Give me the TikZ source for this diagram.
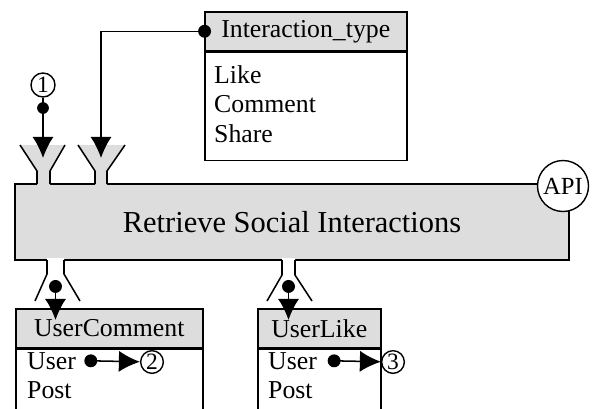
\documentclass[tikz,border=0pt]{standalone}
\usepackage{fontspec}
\setmainfont{Liberation Serif}
\usepackage{tikz}
\usetikzlibrary{arrows.meta}
\usetikzlibrary{positioning}

\tikzset{
  wire/.style={line width=1.3pt, line join=miter},
  procbox/.style={rectangle, draw=black, line width=1.3pt, fill=gray!27,
    minimum width=16.62cm, minimum height=2.28cm, font=\fontsize{26}{30}\selectfont},
  tabhead/.style={rectangle, draw=black, line width=1.3pt, fill=gray!27, inner sep=0pt,
    minimum height=1.17cm, font=\fontsize{22}{25}\selectfont},
  tabbody/.style={rectangle, draw=black, line width=1.3pt, fill=white, inner sep=0pt},
  tabrows/.style={align=left, inner sep=0pt, font=\fontsize{22}{25}\selectfont},
  numc/.style={circle, draw=black, line width=1.2pt, fill=white, inner sep=0pt,
    font=\fontsize{20}{20}\selectfont},
  flow/.style={wire, -{Latex[length=18pt,width=18pt]}},
  dotflow/.style={wire, {Circle[length=11pt]}-{Latex[length=18pt,width=18pt]}},
}

\begin{document}
\begin{tikzpicture}[x=0.03cm, y=-0.03cm]
\clip (0,0) rectangle (592,408);

% process
\node [procbox] (P) at (292,222) {Retrieve Social Interactions};
\node [numc, minimum size=1.53cm, font=\fontsize{21}{21}\selectfont] (api) at (563,186) {API};

% input funnels
\fill [gray!27] (20,145) -- (37,171) -- (37,186) -- (50,186) -- (50,171) -- (65,145) -- cycle;
\draw [wire] (20,145) -- (37,171) -- (37,184);
\draw [wire] (65,145) -- (50,171) -- (50,184);
\fill [gray!27] (78,145) -- (95,171) -- (95,186) -- (107,186) -- (107,171) -- (125,145) -- cycle;
\draw [wire] (78,145) -- (95,171) -- (95,184);
\draw [wire] (125,145) -- (107,171) -- (107,184);
\coordinate (in1) at (43,158);
\coordinate (in2) at (101,158);

% output funnels
\fill [white] (47,258) -- (47,274) -- (35,301) -- (80,301) -- (64,274) -- (64,258) -- cycle;
\draw [wire] (47,260) -- (47,274) -- (35,301);
\draw [wire] (64,260) -- (64,274) -- (80,301);
\fill [white] (282,258) -- (282,275) -- (267,301) -- (312,301) -- (295,275) -- (295,258) -- cycle;
\draw [wire] (282,260) -- (282,275) -- (267,301);
\draw [wire] (295,260) -- (295,275) -- (312,301);
\coordinate (src1) at (55.5,280);
\coordinate (src2) at (288.5,280);
\coordinate (out1) at (55.5,320);
\coordinate (out2) at (288.5,320);

% control table
\node [tabhead, minimum width=6.06cm, anchor=north west] (ith) at (204,11) {Interaction\_type};
\node [tabbody, minimum width=6.06cm, minimum height=3.24cm, below=0pt of ith] (itb) {};
\node [tabrows, anchor=west] (itrows) at (214,104) {Like\\Comment\\Share};

% output tables
\node [tabhead, minimum width=5.61cm, anchor=north west] (uch) at (15,308) {UserComment};
\node [tabbody, minimum width=5.61cm, minimum height=3cm, below=0pt of uch] (ucb) {};
\node [tabrows, anchor=base west] (ucuser) at (27,369) {User};
\node [tabrows, anchor=base west] (ucpost) at (27,398) {Post};

\node [tabhead, minimum width=3.69cm, anchor=north west] (ulh) at (257,308) {UserLike};
\node [tabbody, minimum width=3.69cm, minimum height=3cm, below=0pt of ulh] (ulb) {};
\node [tabrows, anchor=base west] (uluser) at (268,369) {User};
\node [tabrows, anchor=base west] (ulpost) at (268,398) {Post};

% numbered references
\node [numc, minimum size=0.72cm] (n1) at (43,85) {1};
\node [numc, minimum size=0.68cm] (n2) at (152,362) {2};
\node [numc, minimum size=0.68cm] (n3) at (393,362) {3};

% connectors
\draw [flow] (n1) -- (in1);
\fill (43,108) circle (5pt);
\draw [dotflow] ([xshift=6pt]ith.west) -| (in2);
\draw [dotflow] (src1) -- (out1);
\draw [dotflow] (src2) -- (out2);
\draw [dotflow] ([xshift=7pt]ucuser.east) -- (n2);
\draw [dotflow] ([xshift=9pt]uluser.east) -- (n3);
\end{tikzpicture}
\end{document}
